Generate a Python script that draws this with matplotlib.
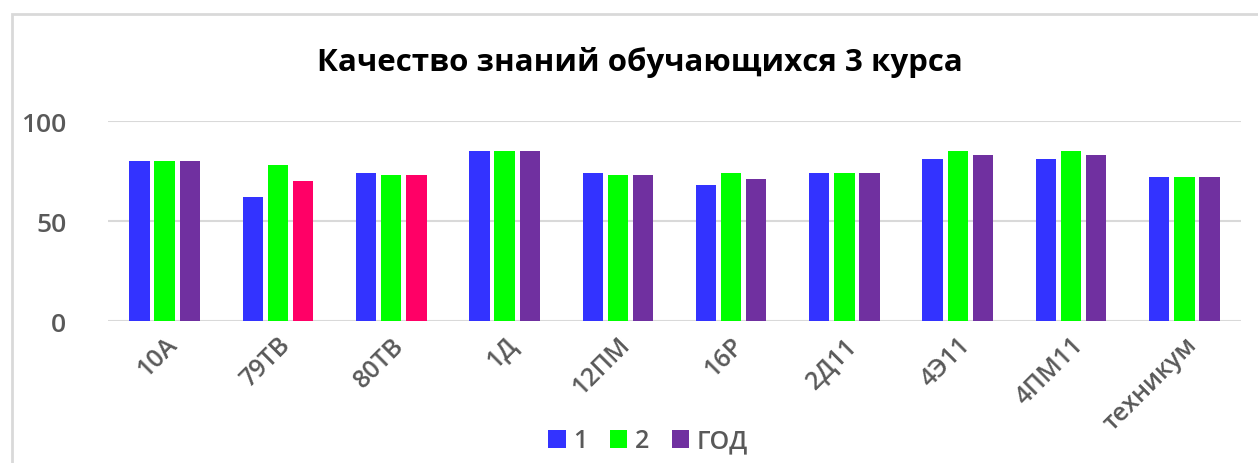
import matplotlib
matplotlib.use("Agg")
import matplotlib.pyplot as plt
import numpy as np
from matplotlib.patches import Rectangle, Patch

categories = ["10А", "79ТВ", "80ТВ", "1Д", "12ПМ", "16Р", "2Д11", "4Э11", "4ПМ11", "техникум"]
s1 = [80, 62, 74, 85, 74, 68, 74, 81, 81, 72]
s2 = [80, 78, 73, 85, 73, 74, 74, 85, 85, 72]
god = [80, 70, 73, 85, 73, 71, 74, 83, 83, 72]
series_names = ["1", "2", "ГОД"]

c_blue = "#3333FF"
c_green = "#00FF00"
c_purple = "#7030A0"
c_red = "#FF0066"
god_colors = [c_red if c in ("79ТВ", "80ТВ") else c_purple for c in categories]

plt.rcParams['font.family'] = ['Open Sans', 'DejaVu Sans']

W, H = 1258, 464
fig = plt.figure(figsize=(W / 100, H / 100), dpi=100)
ax = fig.add_axes([108 / W, 1 - 322 / H, (1241 - 108) / W, (322 - 122) / H])

x = np.arange(len(categories))
bw = 0.18
off = 0.222
ax.bar(x - off, s1, bw, color=c_blue, zorder=3)
ax.bar(x, s2, bw, color=c_green, zorder=3)
ax.bar(x + off, god, bw, color=god_colors, zorder=3)

ax.set_xlim(-0.5, len(categories) - 0.5)
ax.set_ylim(0, 100)
ax.set_yticks([0, 50, 100])
ax.yaxis.grid(True, color="#D9D9D9", linewidth=1.5, zorder=0)
ax.set_axisbelow(True)
for sp in ax.spines.values():
    sp.set_visible(False)
ax.tick_params(axis='both', length=0)
ax.tick_params(axis='y', pad=30, labelsize=19, labelcolor="#595959")
for t in ax.get_yticklabels():
    t.set_fontweight('semibold')
ax.set_xticks(x)
ax.set_xticklabels(categories, rotation=45, ha='right', rotation_mode='anchor',
                   fontsize=18, color="#595959", fontweight='semibold')
ax.tick_params(axis='x', pad=8)

fig.text(640 / W, 1 - 62 / H, "Качество знаний обучающихся 3 курса",
         ha='center', va='center', fontsize=22.5, fontweight='bold', color="black")

handles = [Patch(facecolor=c_blue), Patch(facecolor=c_green), Patch(facecolor=c_purple)]
leg = fig.legend(handles, series_names, loc='center', bbox_to_anchor=(648 / W, 1 - 442 / H),
                 ncol=3, frameon=False, labelcolor="#595959",
                 handlelength=0.7, handleheight=0.7, handletextpad=0.3, columnspacing=0.9,
                 prop={'size': 18, 'weight': 'semibold'})

fig.patches.append(Rectangle((12 / W, -0.1), 1.2, 1.1 - 15 / H, transform=fig.transFigure,
                             fill=False, edgecolor="#D9D9D9", linewidth=2))

fig.savefig("out.png", dpi=100)
